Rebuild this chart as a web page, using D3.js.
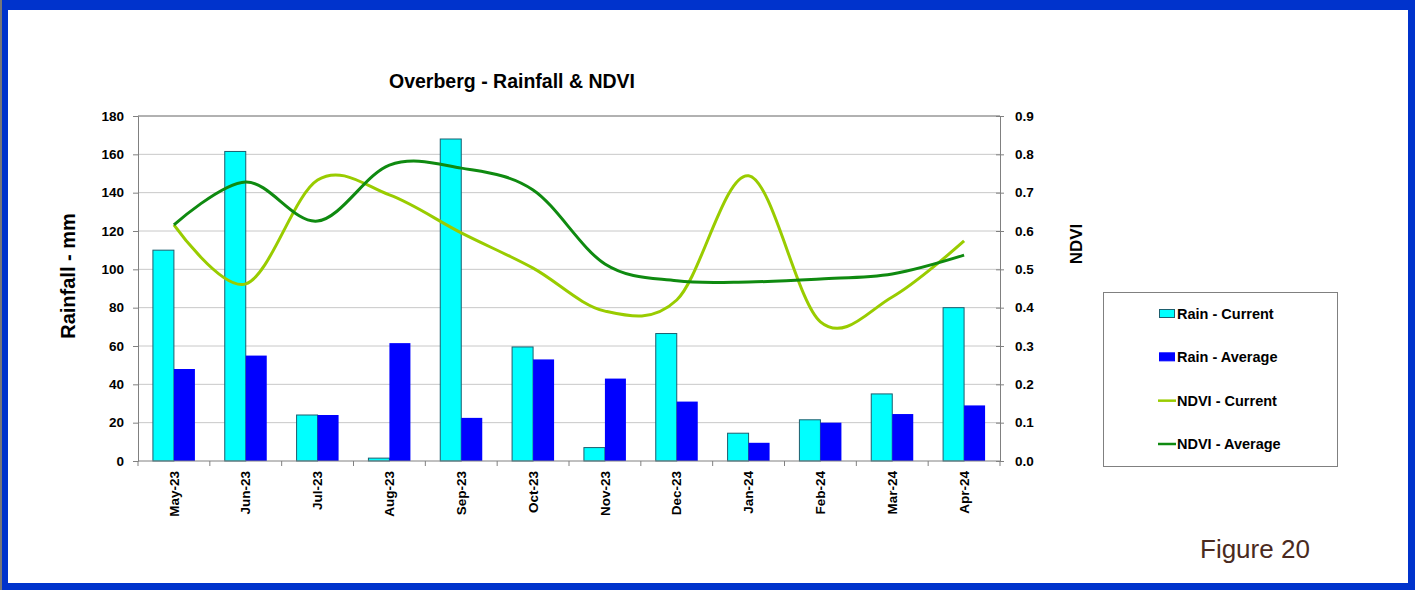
<!DOCTYPE html>
<html>
<head>
<meta charset="utf-8">
<script src="https://cdn.jsdelivr.net/npm/d3@7"></script>
<style>
  html, body { margin: 0; padding: 0; background: #0033cc; }
  #chart { width: 1415px; height: 590px; }
  text { font-family: "Liberation Sans", Arial, sans-serif; }
</style>
</head>
<body>
<div id="chart"></div>
<script>
const months = ["May-23", "Jun-23", "Jul-23", "Aug-23", "Sep-23", "Oct-23",
  "Nov-23", "Dec-23", "Jan-24", "Feb-24", "Mar-24", "Apr-24"];
const rainCurrent = [110, 161.5, 24, 1.5, 168, 59.5, 7, 66.5, 14.5, 21.5, 35, 80];
const rainAverage = [48, 55, 24, 61.5, 22.5, 53, 43, 31, 9.5, 20, 24.5, 29];
const ndviCurrent = [0.616, 0.462, 0.733, 0.694, 0.595, 0.503, 0.391, 0.42, 0.744, 0.363, 0.428, 0.574];
const ndviAverage = [0.616, 0.728, 0.626, 0.772, 0.764, 0.707, 0.514, 0.47, 0.467, 0.475, 0.488, 0.537];
const rainTicks = [0, 20, 40, 60, 80, 100, 120, 140, 160, 180];
const ndviTicks = [0, 0.1, 0.2, 0.3, 0.4, 0.5, 0.6, 0.7, 0.8, 0.9];

const svg = d3.select("#chart")
  .append("svg")
  .attr("width", 1415)
  .attr("height", 590);

// blue frame with white page
svg.append("rect")
  .attr("x", 0).attr("y", 0).attr("width", 1415).attr("height", 590)
  .attr("fill", "#0033cc");
svg.append("rect")
  .attr("x", 0).attr("y", 0).attr("width", 2).attr("height", 590)
  .attr("fill", "#777");
svg.append("rect")
  .attr("x", 8).attr("y", 10).attr("width", 1400).attr("height", 573)
  .attr("fill", "#fff");

const plot = { left: 138, right: 1000, top: 116, bottom: 461 };

const x = d3.scaleBand()
  .domain(months)
  .range([plot.left, plot.right]);

const yRain = d3.scaleLinear().domain([0, 180]).range([plot.bottom, plot.top]);
const yNdvi = d3.scaleLinear().domain([0, 0.9]).range([plot.bottom, plot.top]);

// gridlines
svg.append("g")
  .selectAll("line")
  .data(rainTicks.slice(1))
  .enter()
  .append("line")
  .attr("x1", plot.left).attr("x2", plot.right)
  .attr("y1", d => yRain(d)).attr("y2", d => yRain(d))
  .attr("stroke", "#c8c8c8")
  .attr("stroke-width", 1);

// bars
const barW = 21;
const bars = svg.append("g");
bars.selectAll("rect.cur")
  .data(rainCurrent)
  .enter()
  .append("rect")
  .attr("class", "cur")
  .attr("x", (d, i) => x(months[i]) + x.bandwidth() / 2 - barW)
  .attr("y", d => yRain(d))
  .attr("width", barW)
  .attr("height", d => plot.bottom - yRain(d))
  .attr("fill", "#00ffff")
  .attr("stroke", "#1d5e6e")
  .attr("stroke-width", 1);

bars.selectAll("rect.avg")
  .data(rainAverage)
  .enter()
  .append("rect")
  .attr("class", "avg")
  .attr("x", (d, i) => x(months[i]) + x.bandwidth() / 2)
  .attr("y", d => yRain(d))
  .attr("width", barW)
  .attr("height", d => plot.bottom - yRain(d))
  .attr("fill", "#0000ff");

// NDVI lines
const line = d3.line()
  .x((d, i) => x(months[i]) + x.bandwidth() / 2)
  .y(d => yNdvi(d))
  .curve(d3.curveCardinal.tension(0));

svg.append("path")
  .datum(ndviCurrent)
  .attr("d", line)
  .attr("fill", "none")
  .attr("stroke", "#99cc00")
  .attr("stroke-width", 3);

svg.append("path")
  .datum(ndviAverage)
  .attr("d", line)
  .attr("fill", "none")
  .attr("stroke", "#0f8a10")
  .attr("stroke-width", 3);

// top border of plot
svg.append("line")
  .attr("x1", plot.left).attr("x2", plot.right)
  .attr("y1", plot.top).attr("y2", plot.top)
  .attr("stroke", "#808080");

// left axis
const leftAxis = svg.append("g")
  .attr("transform", `translate(${plot.left},0)`)
  .call(d3.axisLeft(yRain).tickValues(rainTicks).tickSize(5).tickPadding(9));
leftAxis.selectAll("text")
  .attr("font-size", "13.5px").attr("font-weight", "bold").attr("fill", "#000");

// right axis
const rightAxis = svg.append("g")
  .attr("transform", `translate(${plot.right},0)`)
  .call(d3.axisRight(yNdvi).tickValues(ndviTicks).tickSize(4).tickPadding(11)
    .tickFormat(d3.format(".1f")));
rightAxis.selectAll(".tick line").attr("x1", -4);
rightAxis.selectAll("text")
  .attr("font-size", "13.5px").attr("font-weight", "bold").attr("fill", "#000");

// bottom axis
const bottomAxis = svg.append("g")
  .attr("transform", `translate(0,${plot.bottom})`)
  .call(d3.axisBottom(x).tickSize(0).tickPadding(0));
bottomAxis.select(".domain").attr("d", `M${plot.left},0H${plot.right}`);
bottomAxis.selectAll(".tick text")
  .attr("transform", "rotate(-90)")
  .attr("x", -10)
  .attr("y", 0)
  .attr("dy", "0.35em")
  .attr("text-anchor", "end")
  .attr("font-size", "13.5px").attr("font-weight", "bold").attr("fill", "#000");
bottomAxis.selectAll("line.sep")
  .data(d3.range(months.length + 1))
  .enter()
  .append("line")
  .attr("class", "sep")
  .attr("x1", i => plot.left + i * x.step())
  .attr("x2", i => plot.left + i * x.step())
  .attr("y1", 0).attr("y2", 5)
  .attr("stroke", "#808080");

svg.selectAll(".domain, .tick line").attr("stroke", "#808080");

// titles
svg.append("text")
  .attr("x", 512).attr("y", 88)
  .attr("text-anchor", "middle")
  .attr("font-size", "19.5px").attr("font-weight", "bold")
  .text("Overberg - Rainfall & NDVI");

svg.append("text")
  .attr("transform", "translate(75,276) rotate(-90)")
  .attr("text-anchor", "middle")
  .attr("font-size", "20px").attr("font-weight", "bold")
  .text("Rainfall - mm");

svg.append("text")
  .attr("transform", "translate(1082,244) rotate(-90)")
  .attr("text-anchor", "middle")
  .attr("font-size", "17px").attr("font-weight", "bold")
  .text("NDVI");

// legend
const legend = svg.append("g");
legend.append("rect")
  .attr("x", 1103.5).attr("y", 292.5).attr("width", 234).attr("height", 174)
  .attr("fill", "#fff").attr("stroke", "#808080");

const legendItems = [
  { label: "Rain - Current", type: "bar", fill: "#00ffff", stroke: "#1d5e6e" },
  { label: "Rain - Average", type: "bar", fill: "#0000ff", stroke: "#0000ff" },
  { label: "NDVI - Current", type: "line", stroke: "#99cc00" },
  { label: "NDVI - Average", type: "line", stroke: "#0f8a10" }
];
const rowY = d3.scalePoint().domain(d3.range(4)).range([314, 444]);

legendItems.forEach((d, i) => {
  const yy = rowY(i);
  if (d.type === "bar") {
    legend.append("rect")
      .attr("x", 1159.5).attr("y", yy - 4.5).attr("width", 15).attr("height", 8)
      .attr("fill", d.fill).attr("stroke", d.stroke);
  } else {
    legend.append("line")
      .attr("x1", 1158).attr("x2", 1176).attr("y1", yy).attr("y2", yy)
      .attr("stroke", d.stroke).attr("stroke-width", 2.5);
  }
  legend.append("text")
    .attr("x", 1177).attr("y", yy).attr("dy", "0.35em")
    .attr("font-size", "14.5px").attr("font-weight", "bold")
    .text(d.label);
});

svg.append("text")
  .attr("x", 1200).attr("y", 558)
  .attr("font-size", "26px").attr("fill", "#4a2a20")
  .text("Figure 20");
</script>
</body>
</html>
